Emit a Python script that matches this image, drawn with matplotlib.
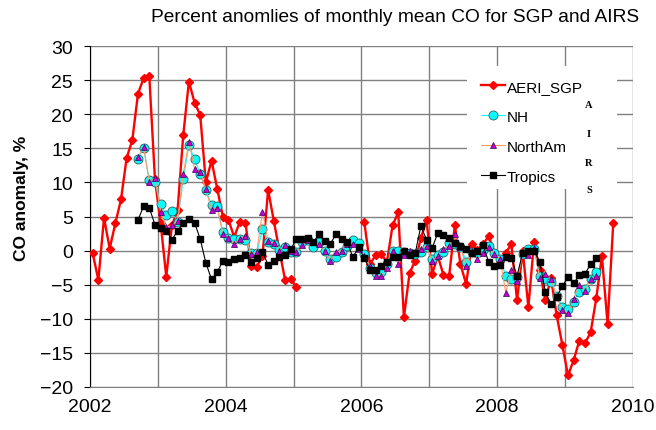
import numpy as np
import matplotlib
matplotlib.use('Agg')
import matplotlib.pyplot as plt
from matplotlib.patches import Rectangle

plt.rcParams['font.family'] = ['Liberation Sans', 'DejaVu Sans']

# monthly values, Jan 2002 .. Dec 2009 (None = no data)
aeri_sgp = [
    -0.4, -4.3, 4.8, 0.3, 4.0, 7.5, 13.6, 16.2, 23.0, 25.3, 25.6, 10.5,
    4.0, -3.8, 3.7, 5.9, 16.9, 24.8, 21.7, 19.9, 10.0, 13.2, 9.1, 5.0,
    4.5, 2.0, 4.2, 4.1, -2.2, -2.4, -0.8, 8.9, 4.4, 0.0, -4.3, -4.2,
    -5.4, None, None, None, None, None, None, None, None, None, None, None,
    4.2, -2.0, -0.7, -0.5, -1.7, 3.7, 5.6, -9.8, -3.3, -1.5, 1.8, 4.5,
    -3.4, -0.8, -3.6, -3.7, 3.7, -2.0, -4.9, 1.0, 0.1, 1.0, 2.1, -0.3,
    -1.5, -0.3, 0.9, -7.3, 0.0, -8.3, 1.2, -2.8, -7.3, -4.0, -9.5, -13.8,
    -18.3, -16.1, -13.2, -13.6, -12.0, -7.0, -0.8, -10.8, 4.0, None, None, None,
]
nh = [
    None, None, None, None, None, None, None, None, 13.5, 15.1, 10.3, 10.1,
    6.8, 5.2, 5.8, 4.2, 10.5, 15.5, 13.4, 11.3, 8.9, 6.7, 6.5, 2.7,
    1.9, 1.7, 1.7, 1.6, -0.4, -0.3, 3.1, 1.3, 1.0, 0.1, 0.5, -0.2,
    -0.2, 1.2, 1.6, 0.5, 1.3, 0.0, -1.3, -1.0, -0.2, 0.7, 1.5, 1.1,
    -0.5, -2.6, -3.3, -3.2, -1.9, 0.0, -0.1, -0.2, -0.3, -0.5, -0.2, 0.6,
    -1.3, -0.6, -0.2, 1.1, 0.9, 0.6, -1.6, -0.2, -0.4, 0.1, 0.7, -0.4,
    -1.2, -3.7, -4.2, -3.9, -0.5, 0.2, 0.2, -3.7, -4.1, -4.6, -6.6, -8.2,
    -8.6, -7.5, -6.0, -5.6, -4.1, -3.2, None, None, None, None, None, None,
]
north_am = [
    None, None, None, None, None, None, None, None, 13.7, 15.2, 10.1, 10.7,
    5.7, 3.4, 3.7, 4.4, 11.2, 16.0, 12.0, 11.5, 9.0, 6.0, 6.3, 2.5,
    1.8, 1.0, 1.7, 2.2, -0.5, -0.2, 5.7, 1.4, 1.1, 0.0, 0.8, -0.1,
    -0.2, 0.8, 1.5, 1.2, 1.0, 0.0, -1.5, -0.2, 0.0, 1.0, 1.0, 0.3,
    -0.8, -2.2, -3.7, -3.7, -2.5, 0.0, -2.0, -0.7, -0.1, -0.3, 0.3, 0.7,
    -1.5, -0.8, 0.3, 0.7, 2.5, 0.5, -2.2, -0.1, -1.3, -0.3, 0.5, -0.5,
    -1.2, -6.2, -2.8, -4.4, -0.3, -0.7, 0.4, -4.0, -3.5, -4.2, -6.7, -8.7,
    -9.2, -7.1, -5.0, -5.9, -4.2, -3.7, None, None, None, None, None, None,
]
tropics = [
    None, None, None, None, None, None, None, None, 4.5, 6.5, 6.3, 3.8,
    3.3, 2.9, 1.6, 2.9, 4.0, 4.6, 4.1, 1.7, -1.8, -4.2, -3.2, -1.5,
    -1.6, -1.2, -1.1, -0.7, -1.7, -1.1, -0.2, -2.1, -1.5, -1.0, -0.7, 0.2,
    1.7, 1.7, 1.9, 1.2, 2.4, 1.4, 1.0, 2.4, 1.7, 1.2, -1.0, 0.6,
    -1.1, -2.8, -2.9, -2.3, -1.6, -0.9, -1.0, 0.0, -0.6, -0.4, 3.6, 1.6,
    0.4, 2.6, 2.3, 1.8, 1.1, 0.7, 0.2, -0.4, 0.0, 0.8, -1.7, -2.2,
    -2.1, -1.0, -1.1, -3.7, -0.3, 0.0, -0.1, -1.6, -6.0, -7.9, -6.8, -5.2,
    -3.9, -4.8, -3.6, -3.4, -2.0, -1.1, None, None, None, None, None, None,
]

# mid-month positions in decimal years
t = 2002 + (np.arange(len(aeri_sgp)) + 0.5) / 12

fig = plt.figure(figsize=(6.56, 4.31), dpi=100)
ax = fig.add_axes([0.137, 0.0998, 0.828, 0.791])

ax.plot(t, np.array(aeri_sgp, dtype=float), color='#FF0000', linewidth=1.7,
        marker='D', markersize=4.5, markerfacecolor='#FF0000', markeredgecolor='#FF0000',
        label='AERI_SGP', zorder=3)
ax.plot(t, np.array(nh, dtype=float), color='#00FFFF', linewidth=0.8,
        marker='o', markersize=6.5, markerfacecolor='#00FFFF', markeredgecolor='#2F5F5F',
        markeredgewidth=0.6, label='NH', zorder=4)
ax.plot(t, np.array(north_am, dtype=float), color='#FF9966', linewidth=0.8,
        marker='^', markersize=4.5, markerfacecolor='#CC00CC', markeredgecolor='#330066',
        markeredgewidth=0.5, label='NorthAm', zorder=5)
ax.plot(t, np.array(tropics, dtype=float), color='#000000', linewidth=0.8,
        marker='s', markersize=4.2, markerfacecolor='#000000', markeredgecolor='#000000',
        label='Tropics', zorder=6)

ax.set_xlim(2002, 2010)
ax.set_ylim(-20, 30)
ax.set_yticks(np.arange(-20, 31, 5))
ax.set_xticks(np.arange(2002, 2011, 1))
ax.set_xticklabels([str(y) if y % 2 == 0 else '' for y in range(2002, 2011)])
ax.tick_params(axis='both', labelsize=14, direction='out', length=4, color='#000000')
ax.tick_params(axis='y', pad=8)
ax.tick_params(axis='x', length=0, pad=8)
ax.grid(True, color='#808080', linewidth=1.0)
ax.set_axisbelow(True)
for s in ['top', 'right']:
    ax.spines[s].set_visible(False)
ax.spines['left'].set_color('#000000')
ax.spines['bottom'].set_color('#808080')

fig.text(22 / 656, 1 - 198 / 431, 'CO anomaly, %', rotation=90, ha='center',
         va='center', fontsize=12.5, fontweight='bold')
fig.text(395 / 656, 1 - 18 / 431, 'Percent anomlies of monthly mean CO for SGP and AIRS',
         ha='center', va='center', fontsize=13.8)

# white box behind legend and the AIRS note
ax.add_patch(Rectangle((467 / 656, 1 - 190 / 431), 150 / 656, 123 / 431,
                       transform=fig.transFigure, facecolor='white',
                       edgecolor='none', zorder=2))
leg = ax.legend(loc='upper left', bbox_to_anchor=(473 / 656, 1 - 73 / 431),
                bbox_transform=fig.transFigure, frameon=False, fontsize=11,
                handlelength=1.6, handletextpad=0.12, borderpad=0,
                labelspacing=1.05)
leg.set_zorder(7)
for ch, yy in zip('AIRS', [106, 135, 163, 191]):
    fig.text(589 / 656, 1 - yy / 431, ch, ha='center', va='center', fontsize=7.5,
             fontweight='bold', family=['Liberation Serif', 'DejaVu Serif'])

fig.savefig('out.png', dpi=100)
